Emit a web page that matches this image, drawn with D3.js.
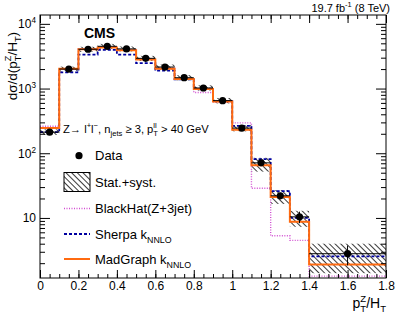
<!DOCTYPE html>
<html lang="en">
<head>
<meta charset="UTF-8">
<script src="https://d3js.org/d3.v7.min.js"></script>
<style>
  body { margin: 0; background: #fff; }
  text { font-family: "Liberation Sans", Arial, Helvetica, sans-serif; fill: #000; }
</style>
</head>
<body>
<svg width="407" height="322" id="chart"></svg>
<script>
// bin edges in pT(Z)/HT
const binEdges = [0, 0.1, 0.2, 0.3, 0.4, 0.5, 0.6, 0.7, 0.8, 0.9, 1.0, 1.1, 1.2, 1.3, 1.4, 1.8];
// measured cross section and errors
const dataVals = [212, 2000, 4050, 4500, 4100, 2930, 2150, 1470, 1020, 650, 245, 71, 22, 10.4, 2.8];
const dataErr  = [6, 25, 40, 45, 40, 30, 25, 20, 15, 12, 7, 5, 2.5, 2.1, 0.95];
const bandLow  = [192, 1830, 3700, 4120, 3750, 2680, 1960, 1340, 930, 590, 218, 52, 16.5, 7.3, 1.4];
const bandHigh = [234, 2180, 4420, 4900, 4470, 3200, 2350, 1610, 1120, 715, 272, 85, 27, 12.9, 4.0];
// predictions
const blackhat = [262, 2010, 4100, 4400, 3950, 2820, 2060, 1420, 870, 620, 295, 28.7, 5.3, 4.5, 1.26];
const sherpa   = [212, 1780, 3350, 3950, 3350, 2480, 1890, 1390, 1000, 640, 265, 81, 26, 10, 2.55];
const madgraph = [245, 2020, 4050, 4300, 3900, 2800, 2030, 1400, 980, 630, 230, 65, 21, 8.7, 1.9];
// axis ticks
const xTicks = [0, 0.2, 0.4, 0.6, 0.8, 1.0, 1.2, 1.4, 1.6, 1.8];
const yTicks = [10, 100, 1000, 10000];

const svg = d3.select("#chart");
const pLeft = 40, pRight = 386, pTop = 15, pBottom = 278;

const x = d3.scaleLinear().domain([0, 1.8]).range([pLeft, pRight]);
const y = d3.scaleLog().domain([1.18, 13700]).range([pBottom, pTop]);

// hatch pattern for the uncertainty band
const defs = svg.append("defs");
const pat = defs.append("pattern")
    .attr("id", "hatch")
    .attr("patternUnits", "userSpaceOnUse")
    .attr("width", 4).attr("height", 4)
    .attr("patternTransform", "rotate(-45)");
pat.append("line")
    .attr("x1", 0.5).attr("y1", 0).attr("x2", 0.5).attr("y2", 4)
    .attr("stroke", "#3a3a3a").attr("stroke-width", 1);
defs.append("clipPath").attr("id", "clip")
    .append("rect").attr("x", pLeft).attr("y", pTop)
    .attr("width", pRight - pLeft).attr("height", pBottom - pTop);

// rich text with sub/superscripts (stack: put over the previous piece)
function richText(sel, parts, size) {
  let shift = 0, prev = null, extra = 0;
  parts.forEach(p => {
    const fs = p.s ? size * 0.68 : size;
    const target = p.s === "sub" ? size * 0.32 : p.s === "sup" ? -size * 0.42 : 0;
    const ts = sel.append("tspan")
        .attr("font-size", fs)
        .attr("dy", target - shift)
        .text(p.t);
    if (p.stack && prev) {
      const pl = prev.node().getComputedTextLength();
      ts.attr("dx", -pl);
      const cl = ts.node().getComputedTextLength();
      extra = Math.max(0, pl - cl);
    } else if (extra) {
      ts.attr("dx", extra);
      extra = 0;
    }
    shift = target;
    prev = ts;
  });
}

const plot = svg.append("g").attr("clip-path", "url(#clip)");

// uncertainty band
plot.selectAll("rect.band")
  .data(dataVals)
  .enter().append("rect")
    .attr("class", "band")
    .attr("x", (d, i) => x(binEdges[i]))
    .attr("width", (d, i) => x(binEdges[i + 1]) - x(binEdges[i]))
    .attr("y", (d, i) => y(bandHigh[i]))
    .attr("height", (d, i) => y(bandLow[i]) - y(bandHigh[i]))
    .attr("fill", "url(#hatch)");

function steps(vals) {
  const pts = [];
  vals.forEach((v, i) => {
    pts.push([binEdges[i], v]);
    pts.push([binEdges[i + 1], v]);
  });
  return pts;
}
const line = d3.line().x(d => x(d[0])).y(d => y(d[1]));

plot.append("path").datum(steps(blackhat))
    .attr("d", line).attr("fill", "none")
    .attr("stroke", "#d24fd2").attr("stroke-width", 1.4)
    .attr("stroke-dasharray", "1,1.5");
plot.append("path").datum(steps(sherpa))
    .attr("d", line).attr("fill", "none")
    .attr("stroke", "#0000a0").attr("stroke-width", 1.8)
    .attr("stroke-dasharray", "3,2");
plot.append("path").datum(steps(madgraph))
    .attr("d", line).attr("fill", "none")
    .attr("stroke", "#ff6a10").attr("stroke-width", 2);

// data points with error bars
const pts = plot.selectAll("g.pt").data(dataVals).enter().append("g").attr("class", "pt");
pts.append("line")
    .attr("x1", (d, i) => x(binEdges[i])).attr("x2", (d, i) => x(binEdges[i + 1]))
    .attr("y1", d => y(d)).attr("y2", d => y(d))
    .attr("stroke", "#000").attr("stroke-width", 1);
pts.append("line")
    .attr("x1", (d, i) => x((binEdges[i] + binEdges[i + 1]) / 2))
    .attr("x2", (d, i) => x((binEdges[i] + binEdges[i + 1]) / 2))
    .attr("y1", (d, i) => y(d + dataErr[i])).attr("y2", (d, i) => y(d - dataErr[i]))
    .attr("stroke", "#000").attr("stroke-width", 1);
pts.append("circle")
    .attr("cx", (d, i) => x((binEdges[i] + binEdges[i + 1]) / 2))
    .attr("cy", d => y(d))
    .attr("r", 3.6).attr("fill", "#000");

// axes: ticks drawn inside the frame
const xMinor = d3.range(0, 1.8001, 0.05);
const yMinor = [];
[1, 10, 100, 1000, 10000].forEach(dec => {
  for (let k = 2; k <= 9; k++) {
    const v = dec * k;
    if (v > 1.18 && v < 13700) yMinor.push(v);
  }
});

function axisStyle(g) {
  g.select(".domain").remove();
  g.selectAll(".tick line").attr("stroke", "#000");
}

svg.append("g").attr("transform", `translate(0,${pBottom})`)
    .call(d3.axisBottom(x).tickValues(xMinor).tickSize(-4).tickFormat("")).call(axisStyle);
svg.append("g").attr("transform", `translate(0,${pBottom})`)
    .call(d3.axisBottom(x).tickValues(xTicks).tickSize(-8).tickPadding(3.5)
      .tickFormat(d => d === 0 ? "0" : d3.format("~g")(d)))
    .call(axisStyle)
    .call(g => g.selectAll("text").attr("font-size", 12));
svg.append("g").attr("transform", `translate(0,${pTop})`)
    .call(d3.axisTop(x).tickValues(xMinor).tickSize(-4).tickFormat("")).call(axisStyle);
svg.append("g").attr("transform", `translate(0,${pTop})`)
    .call(d3.axisTop(x).tickValues(xTicks).tickSize(-8).tickFormat("")).call(axisStyle);

svg.append("g").attr("transform", `translate(${pLeft},0)`)
    .call(d3.axisLeft(y).tickValues(yMinor).tickSize(-5).tickFormat("")).call(axisStyle);
svg.append("g").attr("transform", `translate(${pLeft},0)`)
    .call(d3.axisLeft(y).tickValues(yTicks).tickSize(-10).tickFormat("")).call(axisStyle);
svg.append("g").attr("transform", `translate(${pRight},0)`)
    .call(d3.axisRight(y).tickValues(yMinor).tickSize(-5).tickFormat("")).call(axisStyle);
svg.append("g").attr("transform", `translate(${pRight},0)`)
    .call(d3.axisRight(y).tickValues(yTicks).tickSize(-10).tickFormat("")).call(axisStyle);

// y tick labels as 10^n
yTicks.forEach(v => {
  const t = svg.append("text")
      .attr("x", 36).attr("y", y(v) + 4.3)
      .attr("text-anchor", "end");
  const e = Math.round(Math.log10(v));
  if (e === 1) richText(t, [{t: "10"}], 12);
  else richText(t, [{t: "10"}, {t: String(e), s: "sup"}], 12);
});

// frame
svg.append("rect")
    .attr("x", pLeft).attr("y", pTop)
    .attr("width", pRight - pLeft).attr("height", pBottom - pTop)
    .attr("fill", "none").attr("stroke", "#000").attr("stroke-width", 1);

// labels
svg.append("text").attr("x", 84).attr("y", 37.5)
    .attr("font-size", 14).attr("font-weight", "bold").text("CMS");

const lumi = svg.append("text").attr("x", 390).attr("y", 11.5).attr("text-anchor", "end");
richText(lumi, [{t: "19.7 fb"}, {t: "-1", s: "sup"}, {t: " (8 TeV)"}], 11);

const ytitle = svg.append("text")
    .attr("transform", "translate(17,32) rotate(-90)")
    .attr("text-anchor", "end");
richText(ytitle, [{t: "dσ/d(p"}, {t: "T", s: "sub"}, {t: "Z", s: "sup", stack: true},
  {t: "/H"}, {t: "T", s: "sub"}, {t: ")"}], 13.5);

const xtitle = svg.append("text")
    .attr("x", 386).attr("y", 308).attr("text-anchor", "end");
richText(xtitle, [{t: "p"}, {t: "T", s: "sub"}, {t: "Z", s: "sup", stack: true},
  {t: "/H"}, {t: "T", s: "sub"}], 14);

const header = svg.append("text").attr("x", 63).attr("y", 132.5);
richText(header, [{t: "Z→ l"}, {t: "+", s: "sup"}, {t: "l"}, {t: "−", s: "sup"},
  {t: ", n"}, {t: "jets", s: "sub"}, {t: " ≥ 3, p"}, {t: "T", s: "sub"},
  {t: "ll", s: "sup", stack: true}, {t: " > 40 GeV"}], 11.2);

// legend
const legY = [155.7, 182, 208.5, 234, 259];
const lg = svg.append("g");
lg.append("circle").attr("cx", 79).attr("cy", legY[0]).attr("r", 3.6).attr("fill", "#000");
lg.append("rect").attr("x", 64).attr("y", legY[1] - 9.5).attr("width", 26).attr("height", 19)
    .attr("fill", "url(#hatch)").attr("stroke", "#000").attr("stroke-width", 1);
lg.append("line").attr("x1", 64).attr("x2", 90).attr("y1", legY[2]).attr("y2", legY[2])
    .attr("stroke", "#d24fd2").attr("stroke-width", 1.4).attr("stroke-dasharray", "1,1.5");
lg.append("line").attr("x1", 64).attr("x2", 90).attr("y1", legY[3]).attr("y2", legY[3])
    .attr("stroke", "#0000a0").attr("stroke-width", 1.8).attr("stroke-dasharray", "3,2");
lg.append("line").attr("x1", 64).attr("x2", 90).attr("y1", legY[4]).attr("y2", legY[4])
    .attr("stroke", "#ff6a10").attr("stroke-width", 2);

const legLabels = [
  [{t: "Data"}],
  [{t: "Stat.+syst."}],
  [{t: "BlackHat(Z+3jet)"}],
  [{t: "Sherpa k"}, {t: "NNLO", s: "sub"}],
  [{t: "MadGraph k"}, {t: "NNLO", s: "sub"}]
];
legLabels.forEach((parts, i) => {
  const t = lg.append("text").attr("x", 95).attr("y", legY[i] + 4.7);
  richText(t, parts, 13);
});
</script>
</body>
</html>
